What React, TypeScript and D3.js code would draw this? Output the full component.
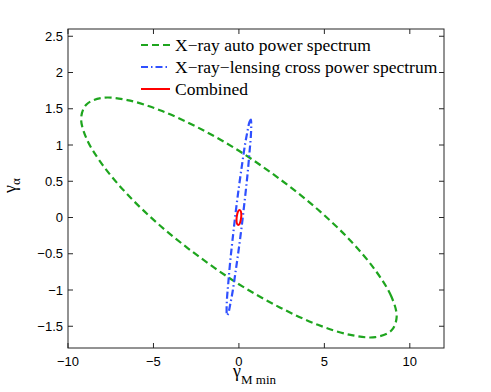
import React from "react";
import * as d3 from "d3";

// ellipse outlines, [gamma_Mmin, gamma_alpha]
const xrayAuto: [number, number][] = [
  [9.23, -1.37], [8.92, -1.09], [7.99, -0.73], [6.53, -0.32], [4.62, 0.11], [2.39, 0.53],
  [0, 0.92], [-2.39, 1.24], [-4.62, 1.48], [-6.53, 1.62], [-7.99, 1.65], [-8.92, 1.56],
  [-9.23, 1.37], [-8.92, 1.09], [-7.99, 0.73], [-6.53, 0.32], [-4.62, -0.11], [-2.39, -0.53],
  [0, -0.92], [2.39, -1.24], [4.62, -1.48], [6.53, -1.62], [7.99, -1.65], [8.92, -1.56],
];

const crossLensing: [number, number][] = [
  [0.72, 1.28], [0.7, 1.35], [0.62, 1.32], [0.51, 1.2], [0.36, 1.01], [0.19, 0.74],
  [0, 0.42], [-0.19, 0.07], [-0.36, -0.28], [-0.51, -0.61], [-0.62, -0.9], [-0.7, -1.13],
  [-0.72, -1.28], [-0.7, -1.35], [-0.62, -1.32], [-0.51, -1.2], [-0.36, -1.01], [-0.19, -0.74],
  [0, -0.42], [0.19, -0.07], [0.36, 0.28], [0.51, 0.61], [0.62, 0.9], [0.7, 1.13],
];

const combined: [number, number][] = [
  [0.14, 0.03], [0.12, 0.08], [0.07, 0.1], [0, 0.1], [-0.07, 0.07], [-0.12, 0.02],
  [-0.14, -0.03], [-0.12, -0.08], [-0.07, -0.1], [0, -0.1], [0.07, -0.07], [0.12, -0.02],
];

const xTicks = [-10, -5, 0, 5, 10];
const yTicks = [-1.5, -1, -0.5, 0, 0.5, 1, 1.5, 2, 2.5];

const series = [
  { name: "X\u2212ray auto power spectrum", pts: xrayAuto, color: "#1ea51e", dash: "7,4", w: 2.2 },
  { name: "X\u2212ray\u2212lensing cross power spectrum", pts: crossLensing, color: "#2f50ff", dash: "7,3,1.5,3", w: 2.2 },
  { name: "Combined", pts: combined, color: "#ff0000", dash: null, w: 2 },
];

const W = 491;
const H = 392;
const box = { left: 68, right: 444, top: 29, bottom: 348 };

const fmt = (v: number) => (v < 0 ? "\u2212" + String(-v) : String(v));

export default function App() {
  const x = d3.scaleLinear().domain([-10, 12]).range([box.left, box.right]);
  const y = d3.scaleLinear().domain([-1.8, 2.6]).range([box.bottom, box.top]);

  const line = d3
    .line<[number, number]>()
    .x((d) => x(d[0]))
    .y((d) => y(d[1]))
    .curve(d3.curveCatmullRomClosed);

  const sans = "'Liberation Sans', Arial, sans-serif";
  const serif = "'Liberation Serif', 'Times New Roman', serif";
  const tick = 5;
  const axisColor = "#262626";

  return (
    <svg
      width={W}
      height={H}
      style={{ position: "absolute", left: 0, top: 0, background: "#fff" }}
    >
      <rect x={0} y={0} width={W} height={H} fill="#fff" />

      {series.map((s) => (
        <path
          key={s.name}
          d={line(s.pts) || ""}
          fill="none"
          stroke={s.color}
          strokeWidth={s.w}
          strokeDasharray={s.dash || undefined}
        />
      ))}

      {/* axes box */}
      <rect
        x={box.left}
        y={box.top}
        width={box.right - box.left}
        height={box.bottom - box.top}
        fill="none"
        stroke={axisColor}
        strokeWidth={1}
      />

      {xTicks.map((t) => (
        <g key={"x" + t}>
          <line x1={x(t)} x2={x(t)} y1={box.bottom} y2={box.bottom - tick} stroke={axisColor} />
          <line x1={x(t)} x2={x(t)} y1={box.top} y2={box.top + tick} stroke={axisColor} />
          <text
            x={x(t)}
            y={box.bottom + 18}
            textAnchor="middle"
            fontFamily={sans}
            fontSize={13}
            fill="#000"
          >
            {fmt(t)}
          </text>
        </g>
      ))}

      {yTicks.map((t) => (
        <g key={"y" + t}>
          <line x1={box.left} x2={box.left + tick} y1={y(t)} y2={y(t)} stroke={axisColor} />
          <line x1={box.right} x2={box.right - tick} y1={y(t)} y2={y(t)} stroke={axisColor} />
          <text
            x={box.left - 5}
            y={y(t) + 4.5}
            textAnchor="end"
            fontFamily={sans}
            fontSize={13}
            fill="#000"
          >
            {fmt(t)}
          </text>
        </g>
      ))}

      {/* axis labels */}
      <text x={233} y={377} fontFamily={serif} fontSize={18} fill="#000">
        γ
        <tspan fontSize={13} dy={7}>M min</tspan>
      </text>
      <text
        transform="translate(16,193) rotate(-90)"
        fontFamily={serif}
        fontSize={18}
        fill="#000"
      >
        γ
        <tspan fontSize={13} dy={4}>α</tspan>
      </text>

      {/* legend */}
      {series.map((s, i) => {
        const ly = 45 + i * 22;
        return (
          <g key={"lg" + i}>
            <line
              x1={141}
              x2={170}
              y1={ly}
              y2={ly}
              stroke={s.color}
              strokeWidth={2}
              strokeDasharray={s.dash || undefined}
            />
            <text x={175} y={ly + 5.5} fontFamily={serif} fontSize={17.5} fill="#000">
              {s.name}
            </text>
          </g>
        );
      })}
    </svg>
  );
}
